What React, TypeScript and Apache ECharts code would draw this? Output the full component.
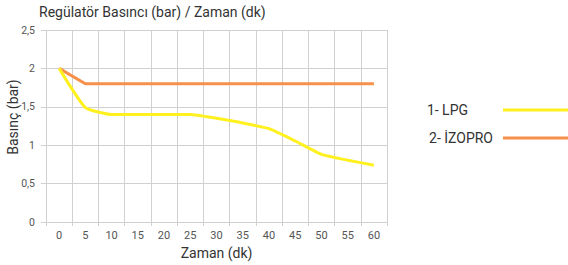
import React, { useEffect, useRef } from "react";
import * as echarts from "echarts";

const categories = ["0", "5", "10", "15", "20", "25", "30", "35", "40", "45", "50", "55", "60"];
const lpgValues = [2, 1.49, 1.4, 1.4, 1.4, 1.4, 1.35, 1.29, 1.215, 1.055, 0.88, 0.805, 0.74];
const izoproValues = [2, 1.8, 1.8, 1.8, 1.8, 1.8, 1.8, 1.8, 1.8, 1.8, 1.8, 1.8, 1.8];
const seriesNames = ["1- LPG", "2- İZOPRO"];
const colors = ["#FFF01F", "#F7904A"];

const FONT = "Roboto";
const GRID = "#d0d0d0";

export default function App() {
  const ref = useRef<HTMLDivElement>(null);
  useEffect(() => {
    if (!ref.current) return;
    const chart = echarts.init(ref.current, null, { renderer: "svg" });
    const legendBase = {
      orient: "vertical" as const,
      right: 0,
      align: "right" as const,
      padding: 0,
      itemWidth: 65,
      itemHeight: 3,
      icon: "rect",
      itemGap: 0,
    };
    chart.setOption({
      animation: false,
      textStyle: { fontFamily: FONT },
      title: {
        text: "Regülatör Basıncı (bar) / Zaman (dk)",
        left: 39,
        top: 5,
        padding: 0,
        textStyle: { fontFamily: FONT, fontSize: 14, fontWeight: "normal", color: "#333" },
      },
      legend: [
        {
          ...legendBase,
          top: 103,
          data: [seriesNames[0]],
          textStyle: { fontFamily: FONT, fontSize: 14, color: "#333", padding: [0, 30, 0, 0] },
        },
        {
          ...legendBase,
          top: 131,
          data: [seriesNames[1]],
          textStyle: { fontFamily: FONT, fontSize: 14, color: "#333", padding: [0, 5, 0, 0] },
        },
      ],
      grid: { left: 46, right: 181, top: 30, bottom: 43, containLabel: false, outerBoundsMode: "none" },
      xAxis: [
        {
          type: "category",
          data: categories,
          boundaryGap: true,
          name: "Zaman (dk)",
          nameLocation: "middle",
          nameGap: 24,
          nameMoveOverlap: false,
          nameTextStyle: { fontFamily: FONT, fontSize: 14, color: "#333" },
          axisLine: { show: true, lineStyle: { color: GRID, width: 1 } },
          axisTick: { show: false },
          axisLabel: { fontFamily: FONT, fontSize: 11, color: "#555", margin: 8, interval: 0 },
          splitLine: { show: false },
        },
        {
          type: "value",
          min: 0,
          max: categories.length,
          interval: 1,
          position: "bottom",
          axisLine: { show: false },
          axisLabel: { show: false },
          axisTick: { show: true, length: 4, lineStyle: { color: GRID } },
          splitLine: { show: true, lineStyle: { color: GRID, width: 1 } },
        },
      ],
      yAxis: {
        type: "value",
        min: 0,
        max: 2.5,
        interval: 0.5,
        name: "Basınç (bar)",
        nameLocation: "middle",
        nameGap: 26,
        nameMoveOverlap: false,
        nameTextStyle: { fontFamily: FONT, fontSize: 14, color: "#333", padding: [0, 0, 0, 18] },
        axisLine: { show: false },
        axisTick: { show: true, length: 5, lineStyle: { color: GRID } },
        axisLabel: {
          fontFamily: FONT,
          fontSize: 10.5,
          color: "#555",
          margin: 11,
          formatter: (v: number) => String(v).replace(".", ","),
        },
        splitLine: { show: true, lineStyle: { color: GRID, width: 1 } },
      },
      series: [
        {
          name: seriesNames[0],
          type: "line",
          xAxisIndex: 0,
          data: lpgValues,
          symbol: "none",
          smooth: 0.15,
          z: 3,
          lineStyle: { color: colors[0], width: 3 },
          itemStyle: { color: colors[0] },
        },
        {
          name: seriesNames[1],
          type: "line",
          xAxisIndex: 0,
          data: izoproValues,
          symbol: "none",
          z: 2,
          lineStyle: { color: colors[1], width: 3 },
          itemStyle: { color: colors[1] },
        },
      ],
    });
    return () => chart.dispose();
  }, []);
  return <div ref={ref} style={{ width: 568, height: 265, position: "absolute", left: 0, top: 0 }} />;
}
